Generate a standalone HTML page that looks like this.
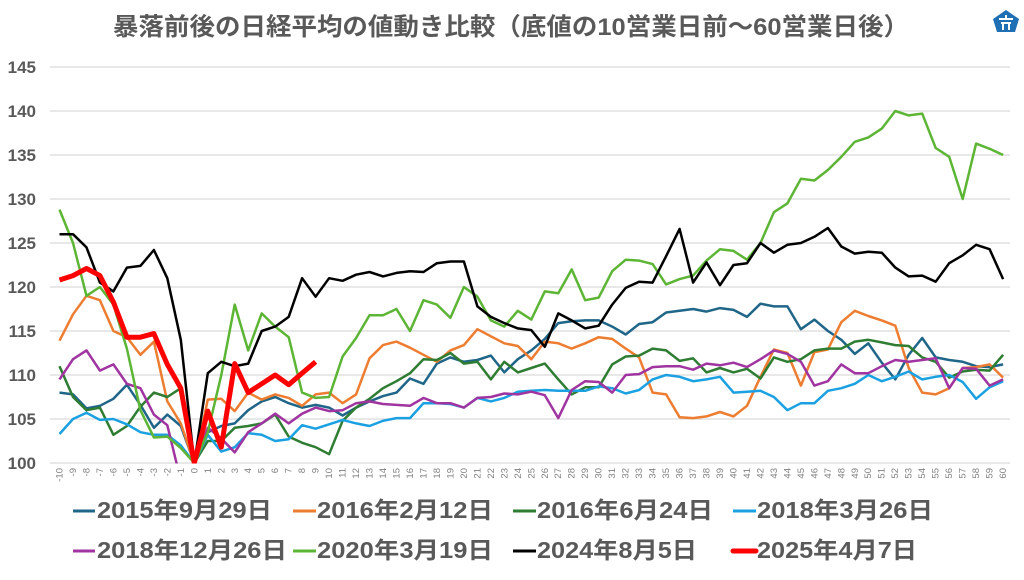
<!DOCTYPE html>
<html><head><meta charset="utf-8"><style>
body{margin:0;background:#fff;width:1024px;height:575px;overflow:hidden;font-family:"Liberation Sans","Noto Sans CJK JP",sans-serif}
</style></head><body>
<svg id="s" width="1024" height="575" xmlns="http://www.w3.org/2000/svg" font-family="Liberation Sans, Noto Sans CJK JP, sans-serif">
<text x="511" y="35" text-anchor="middle" font-size="24.5" fill="#595959" font-weight="bold" textLength="796" lengthAdjust="spacingAndGlyphs">暴落前後の日経平均の値動き比較（底値の10営業日前～60営業日後）</text>
<g transform="translate(993,10)"><path d="M13 0 L26 9 L22 22 L4 22 L0 9 Z" fill="#1f6fb5"/><path d="M6 9 H20 M8 13 H18 M10 13 V20 M16 13 V20 M13 5 V9" stroke="#fff" stroke-width="2" fill="none"/></g>
<g stroke="#d9d9d9" stroke-width="1.3">
<line x1="50" x2="1010" y1="67" y2="67"/><line x1="50" x2="1010" y1="111" y2="111"/><line x1="50" x2="1010" y1="155" y2="155"/><line x1="50" x2="1010" y1="199" y2="199"/><line x1="50" x2="1010" y1="243" y2="243"/><line x1="50" x2="1010" y1="287" y2="287"/><line x1="50" x2="1010" y1="331" y2="331"/><line x1="50" x2="1010" y1="375" y2="375"/><line x1="50" x2="1010" y1="419" y2="419"/><line x1="50" x2="1010" y1="463" y2="463"/>
</g>
<g font-size="17" fill="#595959" font-weight="bold" text-anchor="end">
<text x="36" y="73">145</text><text x="36" y="117">140</text><text x="36" y="161">135</text><text x="36" y="205">130</text><text x="36" y="249">125</text><text x="36" y="293">120</text><text x="36" y="337">115</text><text x="36" y="381">110</text><text x="36" y="425">105</text><text x="36" y="469">100</text>
</g>
<defs><clipPath id="c"><rect x="40" y="40" width="980" height="423.5"/></clipPath></defs>
<g id="lines" clip-path="url(#c)" fill="none" stroke-linejoin="round"></g>
<g font-size="23" fill="#595959" font-weight="bold">
<line x1="73" x2="95" y1="511" y2="511" stroke="#1f6688" stroke-width="3"/><text x="97" y="518" textLength="175" lengthAdjust="spacingAndGlyphs">2015年9月29日</text>
<line x1="293" x2="316" y1="511" y2="511" stroke="#ed7d31" stroke-width="3"/><text x="317" y="518" textLength="176" lengthAdjust="spacingAndGlyphs">2016年2月12日</text>
<line x1="513" x2="536" y1="511" y2="511" stroke="#2e7d32" stroke-width="3"/><text x="537" y="518" textLength="176" lengthAdjust="spacingAndGlyphs">2016年6月24日</text>
<line x1="733" x2="756" y1="511" y2="511" stroke="#1ba1e2" stroke-width="3"/><text x="757" y="518" textLength="176" lengthAdjust="spacingAndGlyphs">2018年3月26日</text>
<line x1="73" x2="95" y1="551" y2="551" stroke="#a034a0" stroke-width="3"/><text x="97" y="558" textLength="190" lengthAdjust="spacingAndGlyphs">2018年12月26日</text>
<line x1="293" x2="316" y1="551" y2="551" stroke="#5db535" stroke-width="3"/><text x="317" y="558" textLength="176" lengthAdjust="spacingAndGlyphs">2020年3月19日</text>
<line x1="513" x2="536" y1="551" y2="551" stroke="#000" stroke-width="3"/><text x="537" y="558" textLength="160" lengthAdjust="spacingAndGlyphs">2024年8月5日</text>
<line x1="733" x2="756" y1="551" y2="551" stroke="#ff0000" stroke-width="5" stroke-linecap="round"/><text x="757" y="558" textLength="160" lengthAdjust="spacingAndGlyphs">2025年4月7日</text>
</g>
</svg>
<script>
var X=function(i){return 59.5+13.48*(i+10)},Y=function(v){return 463-(v-100)*8.8};
var S=[
["#1f6688",2.5,[108,107.8,106.2,106.5,107.3,108.9,106.6,104,105.5,104.2,100,103.5,104.2,104.5,106,107,107.5,106.8,106.3,106.6,106.3,105.4,106.3,107,107.6,108,109.6,109,111.3,112,111.5,111.7,112.2,110.3,111.8,112.8,114.1,115.9,116.1,116.2,116.2,115.5,114.6,115.8,116,117.1,117.3,117.5,117.2,117.6,117.4,116.6,118.1,117.8,117.8,115.2,116.3,115,114,112.4,113.6,111.4,109.5,112.3,114.2,112,111.7,111.5,111,110.9,111.2]],
["#ed7d31",2.5,[113.9,116.9,119,118.5,115,114.3,112.3,113.8,107,104.5,100,107.2,107.3,105.9,108,107.2,107.8,107.4,106.5,107.8,108,106.8,107.8,111.9,113.4,113.8,113.1,112.3,111.5,112.8,113.4,115.2,114.4,113.6,113.3,111.8,113.8,113.6,113,113.6,114.3,114.1,113,112,108,107.8,105.2,105.1,105.3,105.8,105.3,106.5,109.8,112.9,112.5,108.8,112.6,112.9,116,117.3,116.7,116.2,115.6,110.8,108,107.8,108.5,110.8,110.9,111.2,109.7]],
["#2e7d32",2.5,[111,107.5,106,106.3,103.2,104.2,106.4,108,107.5,108.5,100,102.5,102.5,104,104.2,104.5,105.5,103,102.3,101.8,101,104.8,106.3,107.3,108.5,109.3,110.2,111.8,111.7,112.5,111.3,111.5,109.5,111.5,110.3,110.8,111.3,109.5,107.8,108.6,108.6,111.2,112.1,112.2,113,112.8,111.6,111.9,110.3,110.8,110.3,110.7,109.6,112,111.5,111.8,112.8,113,113,113.8,114,113.7,113.4,113.3,112,111.5,109.7,110.4,110.6,110.5,112.3]],
["#1ba1e2",2.5,[103.3,105,105.7,104.9,105,104.4,103.5,103.2,103.2,102,100,103.2,101.3,101.8,103.4,103.2,102.5,102.7,104.3,103.9,104.4,104.9,104.5,104.2,104.8,105.1,105.1,106.8,106.8,106.7,106.3,107.4,107,107.4,108.1,108.2,108.3,108.2,108.2,108.2,108.7,108.5,107.9,108.3,109.5,110,109.8,109.3,109.5,109.8,108,108.1,108.2,107.5,106,106.8,106.8,108.2,108.5,109,110,109.3,109.8,110.4,109.5,109.8,110,109.2,107.3,108.6,109.3]],
["#a034a0",2.5,[109.5,111.8,112.8,110.5,111.2,109,108.5,105.5,104.3,98,100,104,102.8,101.2,103.5,104.5,105.6,104.5,105.6,106.3,105.9,106,106.8,107,106.7,106.6,106.5,107.4,106.8,106.8,106.3,107.4,107.5,107.9,107.8,108.1,107.7,105.1,108.3,109.3,109.2,108,110,110.1,110.9,111,111,110.6,111.3,111.1,111.4,110.9,111.8,112.8,112.4,111.5,108.8,109.3,111.2,110.2,110.2,111,111.7,111.5,111.7,111.9,108.5,110.8,110.7,108.8,109.5]],
["#5db535",2.5,[128.8,125,119,120,118,113,106,102.9,103,101.7,100,103.5,110,118,112.8,117,115.5,114.3,108,107.4,107.5,112.1,114.2,116.8,116.8,117.5,115,118.5,118,116.5,120,118.9,116.2,115.5,117.3,116.3,119.5,119.3,122,118.5,118.8,121.8,123.1,123,122.6,120.3,120.9,121.3,123,124.3,124.1,123.1,125,128.5,129.5,132.3,132.1,133.3,134.8,136.5,137,138,140,139.5,139.7,135.8,134.8,130,136.3,135.7,135]],
["#000000",2.5,[126,126,124.5,120.5,119.5,122.2,122.4,124.2,121,114,100,110.2,111.5,111,111.3,115,115.5,116.6,121,118.9,121,120.7,121.4,121.7,121.2,121.6,121.8,121.7,122.7,122.9,122.9,117.8,116.6,115.9,115.3,115.1,113.2,117,116.2,115.3,115.6,118,119.9,120.6,120.5,123.5,126.6,120.5,122.8,120.2,122.5,122.7,125,123.9,124.8,125,125.7,126.7,124.6,123.8,124,123.9,122.2,121.2,121.3,120.6,122.7,123.6,124.8,124.3,120.9]],
["#ff0000",5,[120.8,121.3,122.1,121.3,118.3,114.3,114.3,114.7,111.2,108.5,100,105.9,101.8,111.3,108,109,110,108.9,110.2,111.5]]];
var g=document.getElementById('lines'),h='';
S.forEach(function(s){h+='<polyline stroke="'+s[0]+'" stroke-width="'+s[1]+'" points="'+s[2].map(function(v,i){return X(i-10).toFixed(1)+','+Y(v).toFixed(1)}).join(' ')+'"/>';});
g.innerHTML=h;
</script>
<svg width="1024" height="575" style="position:absolute;left:0;top:0" font-family="Liberation Sans, sans-serif"><g font-size="9.5" fill="#808080" text-anchor="end">
<text transform="translate(62.5,468) rotate(-90)">-10</text><text transform="translate(76,468) rotate(-90)">-9</text><text transform="translate(89.5,468) rotate(-90)">-8</text><text transform="translate(103,468) rotate(-90)">-7</text><text transform="translate(116.4,468) rotate(-90)">-6</text><text transform="translate(129.9,468) rotate(-90)">-5</text><text transform="translate(143.4,468) rotate(-90)">-4</text><text transform="translate(156.9,468) rotate(-90)">-3</text><text transform="translate(170.4,468) rotate(-90)">-2</text><text transform="translate(183.8,468) rotate(-90)">-1</text><text transform="translate(197.3,468) rotate(-90)">0</text><text transform="translate(210.8,468) rotate(-90)">1</text><text transform="translate(224.3,468) rotate(-90)">2</text><text transform="translate(237.8,468) rotate(-90)">3</text><text transform="translate(251.2,468) rotate(-90)">4</text><text transform="translate(264.7,468) rotate(-90)">5</text><text transform="translate(278.2,468) rotate(-90)">6</text><text transform="translate(291.7,468) rotate(-90)">7</text><text transform="translate(305.1,468) rotate(-90)">8</text><text transform="translate(318.6,468) rotate(-90)">9</text><text transform="translate(332.1,468) rotate(-90)">10</text><text transform="translate(345.6,468) rotate(-90)">11</text><text transform="translate(359.1,468) rotate(-90)">12</text><text transform="translate(372.5,468) rotate(-90)">13</text><text transform="translate(386,468) rotate(-90)">14</text><text transform="translate(399.5,468) rotate(-90)">15</text><text transform="translate(413,468) rotate(-90)">16</text><text transform="translate(426.5,468) rotate(-90)">17</text><text transform="translate(439.9,468) rotate(-90)">18</text><text transform="translate(453.4,468) rotate(-90)">19</text><text transform="translate(466.9,468) rotate(-90)">20</text><text transform="translate(480.4,468) rotate(-90)">21</text><text transform="translate(493.8,468) rotate(-90)">22</text><text transform="translate(507.3,468) rotate(-90)">23</text><text transform="translate(520.8,468) rotate(-90)">24</text><text transform="translate(534.3,468) rotate(-90)">25</text><text transform="translate(547.8,468) rotate(-90)">26</text><text transform="translate(561.2,468) rotate(-90)">27</text><text transform="translate(574.7,468) rotate(-90)">28</text><text transform="translate(588.2,468) rotate(-90)">29</text><text transform="translate(601.7,468) rotate(-90)">30</text><text transform="translate(615.2,468) rotate(-90)">31</text><text transform="translate(628.6,468) rotate(-90)">32</text><text transform="translate(642.1,468) rotate(-90)">33</text><text transform="translate(655.6,468) rotate(-90)">34</text><text transform="translate(669.1,468) rotate(-90)">35</text><text transform="translate(682.5,468) rotate(-90)">36</text><text transform="translate(696,468) rotate(-90)">37</text><text transform="translate(709.5,468) rotate(-90)">38</text><text transform="translate(723,468) rotate(-90)">39</text><text transform="translate(736.5,468) rotate(-90)">40</text><text transform="translate(749.9,468) rotate(-90)">41</text><text transform="translate(763.4,468) rotate(-90)">42</text><text transform="translate(776.9,468) rotate(-90)">43</text><text transform="translate(790.4,468) rotate(-90)">44</text><text transform="translate(803.9,468) rotate(-90)">45</text><text transform="translate(817.3,468) rotate(-90)">46</text><text transform="translate(830.8,468) rotate(-90)">47</text><text transform="translate(844.3,468) rotate(-90)">48</text><text transform="translate(857.8,468) rotate(-90)">49</text><text transform="translate(871.2,468) rotate(-90)">50</text><text transform="translate(884.7,468) rotate(-90)">51</text><text transform="translate(898.2,468) rotate(-90)">52</text><text transform="translate(911.7,468) rotate(-90)">53</text><text transform="translate(925.2,468) rotate(-90)">54</text><text transform="translate(938.6,468) rotate(-90)">55</text><text transform="translate(952.1,468) rotate(-90)">56</text><text transform="translate(965.6,468) rotate(-90)">57</text><text transform="translate(979.1,468) rotate(-90)">58</text><text transform="translate(992.6,468) rotate(-90)">59</text><text transform="translate(1006,468) rotate(-90)">60</text>
</g></svg>
</body></html>
